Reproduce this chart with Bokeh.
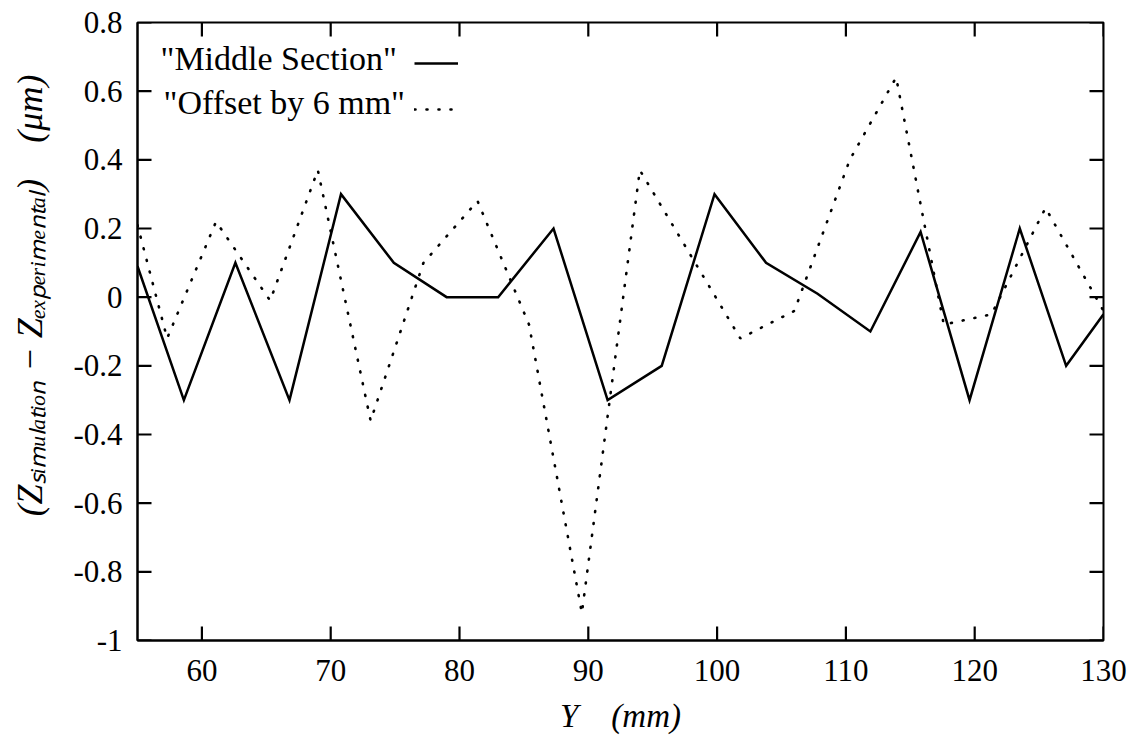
from bokeh.plotting import figure
from bokeh.models import FixedTicker, Label, Legend, LegendItem, Range1d
from bokeh.embed import file_html
from bokeh.resources import INLINE

# ---- data ----
middle_y_mm = [55.0, 58.6, 62.6, 66.8, 70.8, 74.9, 79.0, 83.0, 87.3, 91.5,
               95.7, 99.8, 103.8, 107.8, 111.9, 115.8, 119.6, 123.5, 127.1, 130.0]
middle_dz = [0.09, -0.30, 0.10, -0.30, 0.30, 0.10, 0.00, 0.00, 0.20, -0.30,
             -0.20, 0.30, 0.10, 0.01, -0.10, 0.19, -0.30, 0.20, -0.20, -0.05]

offset_y_mm = [55.0, 57.3, 61.1, 65.3, 69.0, 73.1, 77.2, 81.4, 85.4, 89.5,
               94.0, 101.8, 106.0, 110.3, 113.9, 117.6, 121.3, 125.5, 130.0]
offset_dz = [0.21, -0.12, 0.22, -0.01, 0.37, -0.36, 0.10, 0.28, -0.08, -0.92,
             0.37, -0.12, -0.04, 0.40, 0.64, -0.08, -0.05, 0.26, -0.04]

x_ticks = [60, 70, 80, 90, 100, 110, 120, 130]
x_tick_labels = ["60", "70", "80", "90", "100", "110", "120", "130"]
y_ticks = [-1.0, -0.8, -0.6, -0.4, -0.2, 0.0, 0.2, 0.4, 0.6, 0.8]
y_tick_labels = ["-1", "-0.8", "-0.6", "-0.4", "-0.2", "0", "0.2", "0.4", "0.6", "0.8"]

legend_texts = ['"Middle Section"', '"Offset by 6 mm"']
x_title = "Y\u2003(mm)"
y_title = ("\u2003\u2003(Z\u209b\u1d62\u2098\u1d64\u2097\u2090\u209c\u1d62\u2092\u2099 \u2212 "
           "Z\u2091\u2093\u209a\u2091\u1d63\u1d62\u2098\u2091\u2099\u209c\u2090\u2097)\u2003(\u03bcm)")

FONT = "Liberation Serif"
X0, X1, Y0, Y1 = 55, 130, -1.0, 0.8
FW, FH = 966, 618
TICK_PX = 14

p = figure(frame_width=FW, frame_height=FH,
           x_range=Range1d(X0, X1), y_range=Range1d(Y0, Y1),
           output_backend="svg", toolbar_location=None,
           min_border_left=137, min_border_right=32,
           min_border_top=22, min_border_bottom=90)
p.background_fill_color = "white"
p.border_fill_color = "white"
p.outline_line_color = "black"
p.outline_line_width = 2
p.xgrid.visible = False
p.ygrid.visible = False

# ---- inward tick marks on all four sides, built from the tick lists ----
ty = TICK_PX * (Y1 - Y0) / FH
tx = TICK_PX * (X1 - X0) / FW
tick_xs, tick_ys = [], []
for t in x_ticks:
    tick_xs += [[t, t], [t, t]]
    tick_ys += [[Y0, Y0 + ty], [Y1, Y1 - ty]]
for t in y_ticks:
    tick_xs += [[X0, X0 + tx], [X1, X1 - tx]]
    tick_ys += [[t, t], [t, t]]
p.multi_line(xs=tick_xs, ys=tick_ys, line_color="black", line_width=2.2)

# ---- the two series ----
r1 = p.line(middle_y_mm, middle_dz, line_color="black", line_width=2.5,
            line_join="miter")
r2 = p.line(offset_y_mm, offset_dz, line_color="black", line_width=2.6,
            line_dash="1 11", line_cap="round")

# ---- axes ----
for ax, ticks, labels in ((p.xaxis[0], x_ticks, x_tick_labels),
                          (p.yaxis[0], y_ticks, y_tick_labels)):
    ax.ticker = FixedTicker(ticks=ticks)
    ax.major_label_overrides = {t: l for t, l in zip(ticks, labels)}
    ax.major_tick_in = 0
    ax.major_tick_out = 0
    ax.minor_tick_line_color = None
    ax.axis_line_color = "black"
    ax.axis_line_width = 2
    ax.major_label_text_font = FONT
    ax.major_label_text_font_size = "31px"
    ax.major_label_text_color = "black"

xa = p.xaxis[0]
ya = p.yaxis[0]
xa.major_label_standoff = 19
ya.major_label_standoff = 15

xa.axis_label = x_title
xa.axis_label_text_font = FONT
xa.axis_label_text_font_style = "italic"
xa.axis_label_text_font_size = "33px"
xa.axis_label_text_color = "black"
xa.axis_label_standoff = 14

ya.axis_label = y_title
ya.axis_label_text_font = FONT
ya.axis_label_text_font_style = "italic"
ya.axis_label_text_font_size = "36px"
ya.axis_label_text_color = "black"
ya.axis_label_standoff = 20

# ---- legend: text on the left, line sample on the right ----
p.add_layout(Label(x=23, y=582, x_units="screen", y_units="screen",
                   text=legend_texts[0], text_font=FONT, text_font_size="34px",
                   text_baseline="middle", text_align="left", text_color="black"))
p.add_layout(Label(x=26, y=538, x_units="screen", y_units="screen",
                   text=legend_texts[1], text_font=FONT, text_font_size="34px",
                   text_baseline="middle", text_align="left", text_color="black"))

legend = Legend(items=[LegendItem(label=" ", renderers=[r1]),
                       LegendItem(label=" ", renderers=[r2])],
                location=(277, 521), glyph_width=44, glyph_height=20,
                label_height=20, label_width=1, label_standoff=0,
                label_text_font_size="10px", spacing=26, padding=0, margin=0,
                border_line_color=None, background_fill_alpha=0)
p.add_layout(legend)

open("out.html", "w").write(file_html(p, INLINE))
